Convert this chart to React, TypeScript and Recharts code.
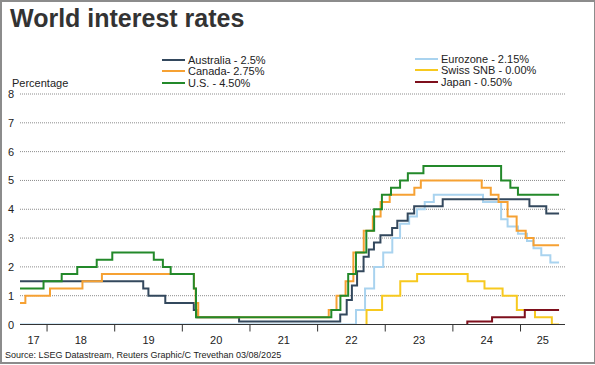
import React from 'react';
import { LineChart, Line, XAxis, YAxis, CartesianGrid } from 'recharts';

type Pt = [string, number];

const australia: Pt[] = [
  ['2017-08-08', 1.5], ['2019-06-04', 1.25], ['2019-07-02', 1.0], ['2019-10-01', 0.75],
  ['2020-03-03', 0.5], ['2020-03-19', 0.25], ['2020-11-03', 0.1], ['2022-05-03', 0.35],
  ['2022-06-07', 0.85], ['2022-07-05', 1.35], ['2022-08-02', 1.85], ['2022-09-06', 2.35],
  ['2022-10-04', 2.6], ['2022-11-01', 2.85], ['2022-12-06', 3.1], ['2023-02-07', 3.35],
  ['2023-03-07', 3.6], ['2023-05-02', 3.85], ['2023-06-06', 4.1], ['2023-11-07', 4.35],
  ['2025-02-18', 4.1], ['2025-05-20', 3.85], ['2025-07-28', 3.85],
];

const canada: Pt[] = [
  ['2017-08-08', 0.75], ['2017-09-06', 1.0], ['2018-01-17', 1.25], ['2018-07-11', 1.5],
  ['2018-10-24', 1.75], ['2020-03-04', 1.25], ['2020-03-13', 0.75], ['2020-03-27', 0.25],
  ['2022-03-02', 0.5], ['2022-04-13', 1.0], ['2022-06-01', 1.5], ['2022-07-13', 2.5],
  ['2022-09-07', 3.25], ['2022-10-26', 3.75], ['2022-12-07', 4.25], ['2023-01-25', 4.5],
  ['2023-06-07', 4.75], ['2023-07-12', 5.0], ['2024-06-05', 4.75], ['2024-07-24', 4.5],
  ['2024-09-04', 4.25], ['2024-10-23', 3.75], ['2024-12-11', 3.25], ['2025-01-29', 3.0],
  ['2025-03-12', 2.75], ['2025-07-28', 2.75],
];

const us: Pt[] = [
  ['2017-08-08', 1.25], ['2017-12-13', 1.5], ['2018-03-21', 1.75], ['2018-06-13', 2.0],
  ['2018-09-26', 2.25], ['2018-12-19', 2.5], ['2019-07-31', 2.25], ['2019-09-18', 2.0],
  ['2019-10-30', 1.75], ['2020-03-03', 1.25], ['2020-03-15', 0.25], ['2022-03-16', 0.5],
  ['2022-05-04', 1.0], ['2022-06-15', 1.75], ['2022-07-27', 2.5], ['2022-09-21', 3.25],
  ['2022-11-02', 4.0], ['2022-12-14', 4.5], ['2023-02-01', 4.75], ['2023-03-22', 5.0],
  ['2023-05-03', 5.25], ['2023-07-26', 5.5], ['2024-09-18', 5.0], ['2024-11-07', 4.75],
  ['2024-12-18', 4.5], ['2025-07-28', 4.5],
];

const eurozone: Pt[] = [
  ['2017-08-08', 0.0], ['2022-07-27', 0.5], ['2022-09-14', 1.25], ['2022-11-02', 2.0],
  ['2022-12-21', 2.5], ['2023-02-08', 3.0], ['2023-03-22', 3.5], ['2023-05-10', 3.75],
  ['2023-06-21', 4.0], ['2023-08-02', 4.25], ['2023-09-20', 4.5], ['2024-06-12', 4.25],
  ['2024-09-18', 3.65], ['2024-10-23', 3.4], ['2024-12-18', 3.15], ['2025-02-05', 2.9],
  ['2025-03-12', 2.65], ['2025-04-23', 2.4], ['2025-06-11', 2.15], ['2025-07-28', 2.15],
];

const swiss: Pt[] = [
  ['2017-08-08', -0.75], ['2022-06-16', -0.25], ['2022-09-22', 0.5], ['2022-12-15', 1.0],
  ['2023-03-23', 1.5], ['2023-06-22', 1.75], ['2024-03-21', 1.5], ['2024-06-20', 1.25],
  ['2024-09-26', 1.0], ['2024-12-12', 0.5], ['2025-03-20', 0.25], ['2025-06-19', 0.0],
  ['2025-07-28', 0.0],
];

const japan: Pt[] = [
  ['2017-08-08', -0.1], ['2024-03-19', 0.1], ['2024-07-31', 0.25], ['2025-01-24', 0.5],
  ['2025-07-28', 0.5],
];

const yTicks = [0, 1, 2, 3, 4, 5, 6, 7, 8];
const yearLabels = ['17', '18', '19', '20', '21', '22', '23', '24', '25'];
const domainStartDate = '2017-08-08';
const domainEndDate = '2025-08-29';

const legendLeft = [
  { name: 'Australia - 2.5%', color: '#33485d' },
  { name: 'Canada- 2.75%', color: '#f6a133' },
  { name: 'U.S. - 4.50%', color: '#23892a' },
];
const legendRight = [
  { name: 'Eurozone - 2.15%', color: '#a9d3ef' },
  { name: 'Swiss SNB - 0.00%', color: '#f7c91f' },
  { name: 'Japan - 0.50%', color: '#7e0f1c' },
];

const FONT = '"Liberation Sans", Arial, Helvetica, sans-serif';

function toYear(s: string): number {
  const [y, m, d] = s.split('-').map(Number);
  const start = Date.UTC(y, 0, 1);
  const end = Date.UTC(y + 1, 0, 1);
  return y + (Date.UTC(y, m - 1, d) - start) / (end - start);
}

const toSeries = (pts: Pt[]) => pts.map(([date, v]) => ({ t: toYear(date), v }));

const xMin = toYear(domainStartDate);
const xMax = toYear(domainEndDate);

const boundaries = yearLabels.slice(1).map((l) => 2000 + Number(l));
const labelTicks = yearLabels.map((l) => {
  const yr = 2000 + Number(l);
  const lo = Math.max(yr, xMin);
  const hi = Math.min(yr + 1, xMax);
  return { pos: (lo + hi) / 2, label: l };
});
const allTicks = [...boundaries, ...labelTicks.map((d) => d.pos)].sort((a, b) => a - b);

const XTick = (props: any) => {
  const { x, y, payload } = props;
  const v = payload.value;
  if (boundaries.some((b) => Math.abs(b - v) < 1e-9)) {
    return <line x1={x} x2={x} y1={y} y2={y + 7} stroke="#333" strokeWidth={1} />;
  }
  const lt = labelTicks.find((d) => Math.abs(d.pos - v) < 1e-9);
  return (
    <text x={x} y={y + 19} textAnchor="middle" fontSize={11} fill="#222" fontFamily={FONT}>
      {lt ? lt.label : ''}
    </text>
  );
};

const YTick = (props: any) => {
  const { y, payload } = props;
  return (
    <text x={14} y={y + 4} textAnchor="end" fontSize={11} fill="#222" fontFamily={FONT}>
      {payload.value}
    </text>
  );
};

const seriesList = [
  { key: 'eurozone', data: toSeries(eurozone), color: legendRight[0].color },
  { key: 'swiss', data: toSeries(swiss), color: legendRight[1].color },
  { key: 'japan', data: toSeries(japan), color: legendRight[2].color },
  { key: 'australia', data: toSeries(australia), color: legendLeft[0].color },
  { key: 'canada', data: toSeries(canada), color: legendLeft[1].color },
  { key: 'us', data: toSeries(us), color: legendLeft[2].color },
];

const LegendCol = ({ items, left, top }: { items: { name: string; color: string }[]; left: number; top: number }) => (
  <div style={{ position: 'absolute', left, top }}>
    {items.map((it) => (
      <div key={it.name} style={{ display: 'flex', alignItems: 'center', height: 11.5, fontSize: 11, color: '#222', fontFamily: FONT, whiteSpace: 'nowrap' }}>
        <span style={{ display: 'inline-block', width: 23, height: 2, background: it.color, marginRight: 3 }} />
        <span>{it.name}</span>
      </div>
    ))}
  </div>
);

export default function App() {
  return (
    <div style={{ position: 'absolute', left: 0, top: 0, width: 595, height: 365, background: '#fff', fontFamily: FONT, overflow: 'hidden' }}>
      <div style={{ position: 'absolute', left: 0, top: 0, width: 595, height: 364, boxSizing: 'border-box', border: '2px solid #8c8c8c', borderRight: '1px solid #8c8c8c', pointerEvents: 'none', zIndex: 5 }} />
      <div style={{ position: 'absolute', left: 10, top: 4, fontSize: 25, fontWeight: 'bold', color: '#333', fontFamily: FONT, whiteSpace: 'nowrap' }}>
        World interest rates
      </div>
      <LegendCol items={legendLeft} left={162} top={54} />
      <LegendCol items={legendRight} left={415} top={53} />
      <div style={{ position: 'absolute', left: 12, top: 77, fontSize: 11, color: '#222', fontFamily: FONT }}>Percentage</div>
      <div style={{ position: 'absolute', left: 5, top: 350, fontSize: 9, color: '#222', fontFamily: FONT, whiteSpace: 'nowrap' }}>
        Source: LSEG Datastream, Reuters Graphic/C Trevethan 03/08/2025
      </div>
      <div style={{ position: 'absolute', left: 0, top: 0 }}>
        <LineChart width={595} height={365} margin={{ top: 94, right: 30, left: 0, bottom: 10.5 }}>
          <CartesianGrid horizontal vertical={false} stroke="#8c8c8c" strokeDasharray="1 1" />
          <XAxis
            type="number"
            dataKey="t"
            domain={[xMin, xMax]}
            allowDataOverflow
            ticks={allTicks}
            interval={0}
            tick={<XTick />}
            tickLine={false}
            tickSize={0}
            tickMargin={0}
            height={30}
            axisLine={{ stroke: '#333', strokeWidth: 1 }}
          />
          <YAxis
            type="number"
            domain={[0, 8]}
            ticks={yTicks}
            allowDataOverflow
            width={20}
            axisLine={false}
            tickLine={false}
            tick={<YTick />}
            interval={0}
          />
          {seriesList.map((s) => (
            <Line
              key={s.key}
              data={s.data}
              dataKey="v"
              type="stepAfter"
              stroke={s.color}
              strokeWidth={2}
              dot={false}
              activeDot={false}
              isAnimationActive={false}
            />
          ))}
        </LineChart>
      </div>
    </div>
  );
}
